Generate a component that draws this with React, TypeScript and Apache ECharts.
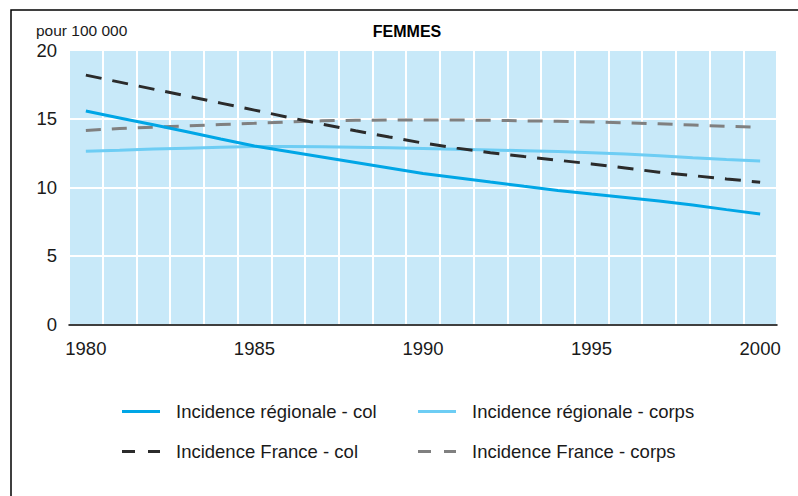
import React, { useEffect, useRef } from "react";
import * as echarts from "echarts";

const years = ["1980","1981","1982","1983","1984","1985","1986","1987","1988","1989","1990","1991","1992","1993","1994","1995","1996","1997","1998","1999","2000"];
const regionalCol = [15.55, 15.05, 14.55, 14.05, 13.52, 13.0, 12.6, 12.2, 11.8, 11.4, 11.0, 10.7, 10.38, 10.07, 9.77, 9.5, 9.25, 9.0, 8.7, 8.37, 8.05];
const regionalCorps = [12.63, 12.7, 12.78, 12.85, 12.92, 12.97, 12.97, 12.95, 12.92, 12.88, 12.83, 12.77, 12.72, 12.66, 12.6, 12.52, 12.42, 12.3, 12.15, 12.03, 11.92];
const franceCol = [18.17, 17.66, 17.15, 16.64, 16.13, 15.62, 15.1, 14.6, 14.12, 13.66, 13.22, 12.85, 12.52, 12.24, 11.97, 11.7, 11.4, 11.1, 10.85, 10.6, 10.37];
const franceCorps = [14.14, 14.28, 14.38, 14.47, 14.57, 14.66, 14.76, 14.84, 14.88, 14.9, 14.9, 14.9, 14.88, 14.84, 14.8, 14.76, 14.7, 14.62, 14.53, 14.44, 14.36];

const names = [
  "Incidence régionale - col",
  "Incidence régionale - corps",
  "Incidence France - col",
  "Incidence France - corps",
];
const colors = ["#00a6e6", "#6dcdf4", "#2b2b2b", "#808080"];

const FONT = "'Liberation Sans', Arial, Helvetica, sans-serif";
const SOLID_ICON = "path://M0,0H38V3H0Z";
const DASH_ICON = "path://M0,0H13V3H0Z M26,0H38V3H26Z";

export default function App() {
  const ref = useRef<HTMLDivElement>(null);
  useEffect(() => {
    if (!ref.current) return;
    const chart = echarts.init(ref.current, null, { renderer: "svg" });
    const legendText = { fontFamily: FONT, fontSize: 18.5, color: "#1a1a1a", padding: [0, 0, 0, 11] };
    const mkLegend = (name: string, left: number, top: number, dashed: boolean, color: string) => ({
      left,
      top,
      itemWidth: 38,
      itemHeight: 3,
      selectedMode: false,
      textStyle: legendText,
      data: [
        {
          name,
          icon: dashed ? DASH_ICON : SOLID_ICON,
          itemStyle: { color, borderWidth: 0 },
        },
      ],
    });
    chart.setOption({
      animation: false,
      backgroundColor: "#ffffff",
      graphic: [
        {
          type: "rect",
          shape: { x: 11, y: 10, width: 800, height: 500 },
          style: { fill: "none", stroke: "#000", lineWidth: 1.5 },
        },
        {
          type: "text",
          left: 36,
          top: 22,
          style: { text: "pour 100 000", font: `15.5px ${FONT}`, fill: "#1a1a1a" },
        },
        {
          type: "text",
          x: 407,
          y: 31,
          style: {
            text: "FEMMES",
            font: `bold 16px ${FONT}`,
            fill: "#000",
            textAlign: "center",
            textVerticalAlign: "middle",
          },
        },
      ],
      legend: [
        mkLegend(names[0], 117, 397, false, colors[0]),
        mkLegend(names[2], 117, 437, true, colors[2]),
        mkLegend(names[1], 413, 397, false, colors[1]),
        mkLegend(names[3], 413, 437, true, colors[3]),
      ],
      grid: {
        left: 69,
        top: 50,
        width: 708,
        height: 274.5,
        show: true,
        backgroundColor: "#c8e9f9",
        borderWidth: 0,
      },
      xAxis: {
        type: "category",
        data: years,
        boundaryGap: true,
        axisLine: { show: true, lineStyle: { color: "#000", width: 1.5 } },
        axisTick: { show: false },
        axisLabel: {
          interval: 4,
          margin: 14,
          fontFamily: FONT,
          fontSize: 18.5,
          color: "#1a1a1a",
        },
        splitLine: { show: true, interval: 0, lineStyle: { color: "#ffffff", width: 2 } },
      },
      yAxis: {
        type: "value",
        min: 0,
        max: 20,
        interval: 5,
        axisLine: { show: false },
        axisTick: { show: false },
        axisLabel: { margin: 12, fontFamily: FONT, fontSize: 18.5, color: "#1a1a1a" },
        splitLine: { show: true, lineStyle: { color: "#ffffff", width: 2 } },
      },
      series: [
        {
          name: names[1],
          type: "line",
          data: regionalCorps,
          symbol: "none",
          lineStyle: { color: colors[1], width: 3 },
          itemStyle: { color: colors[1] },
        },
        {
          name: names[3],
          type: "line",
          data: franceCorps,
          symbol: "none",
          lineStyle: { color: colors[3], width: 3, type: [15, 11], cap: "butt" },
          itemStyle: { color: colors[3] },
        },
        {
          name: names[2],
          type: "line",
          data: franceCol,
          symbol: "none",
          lineStyle: { color: colors[2], width: 3, type: [16, 11], cap: "butt" },
          itemStyle: { color: colors[2] },
        },
        {
          name: names[0],
          type: "line",
          data: regionalCol,
          symbol: "none",
          lineStyle: { color: colors[0], width: 3 },
          itemStyle: { color: colors[0] },
        },
      ],
    });
    return () => chart.dispose();
  }, []);
  return (
    <div
      ref={ref}
      style={{ position: "fixed", left: 0, top: 0, width: 798, height: 496 }}
    />
  );
}
